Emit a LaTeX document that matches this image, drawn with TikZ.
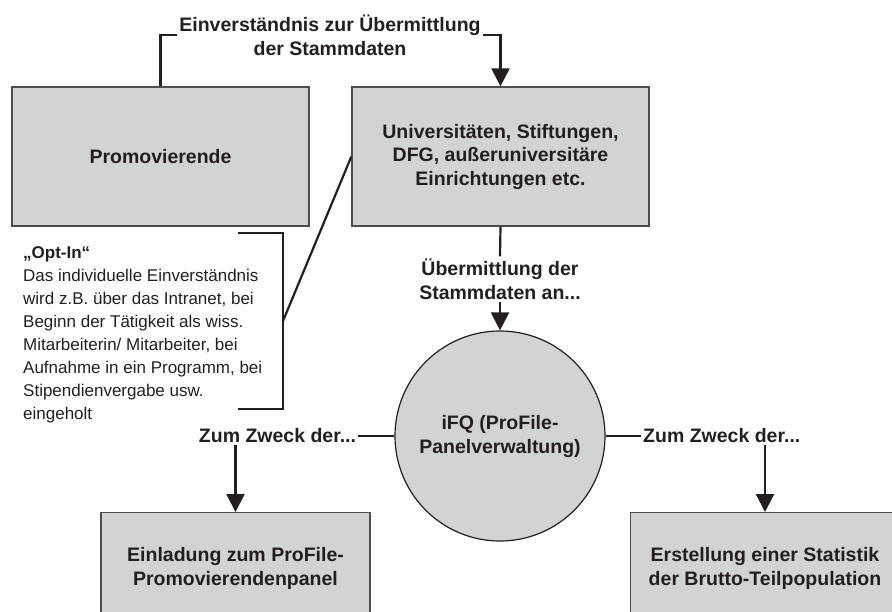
\documentclass[tikz,border=0pt]{standalone}
\usepackage{fontspec}
\setmainfont{Liberation Sans}
\usetikzlibrary{arrows.meta}
\definecolor{boxgray}{RGB}{209,211,212}
\definecolor{ink}{RGB}{35,31,32}

\begin{document}
\begin{tikzpicture}[x=1pt, y=-1pt,
    box/.style={draw=ink!80, line width=1.3pt, fill=boxgray, text=ink,
                minimum width=297pt, minimum height=139pt, inner sep=0pt,
                align=center, font=\fontsize{19.5}{23.5}\selectfont\bfseries},
    lowbox/.style={box, minimum width=269pt, minimum height=112pt},
    hub/.style={circle, draw=ink, line width=1.2pt, fill=boxgray, text=ink,
                minimum size=210pt, inner sep=0pt, align=center,
                font=\fontsize{19.5}{24}\selectfont\bfseries},
    lbl/.style={align=center, inner sep=2pt, text=ink,
                font=\fontsize{19.5}{24}\selectfont\bfseries},
    note/.style={align=left, inner sep=0pt, text=ink,
                 font=\fontsize{17}{23}\selectfont},
    link/.style={draw=ink, line width=2.2pt},
    arrowlink/.style={link, -{Triangle[length=18pt,width=18pt]}}]
  \useasboundingbox (0,0) rectangle (892,611);
  \clip (0,0) rectangle (892,611);

  % boxes
  \node[box] (promo) at (160.5,156.5) {Promovierende};
  \node[box] (uni) at (500.5,156.5)
    {Universitäten, Stiftungen,\\DFG, außeruniversitäre\\Einrichtungen etc.};
  \node[hub] (ifq) at (500,436) {iFQ (ProFile-\\Panelverwaltung)};
  \node[lowbox, anchor=north] (invite) at (235.5,512)
    {Einladung zum ProFile-\\Promovierendenpanel};
  \node[lowbox, anchor=north] (stats) at (765,512)
    {Erstellung einer Statistik\\der Brutto-Teilpopulation};

  % labels
  \node[lbl] (consent) at (330,35) {Einverständnis zur Übermittlung\\der Stammdaten};
  \node[lbl] (transfer) at (500,279) {Übermittlung der\\Stammdaten an...};
  \node[lbl] (purposeL) at (277.5,436) {Zum Zweck der...};
  \node[lbl, anchor=west] (purposeR) at (641,436) {Zum Zweck der...};

  % opt-in note (base = baseline of its last line)
  \node[note, anchor=base west] (optin) at (23,419)
    {\textbf{„Opt-In“}\\Das individuelle Einverständnis\\wird z.B. über das Intranet, bei\\%
     Beginn der Tätigkeit als wiss.\\Mitarbeiterin/ Mitarbeiter, bei\\%
     Aufnahme in ein Programm, bei\\Stipendienvergabe usw.\\eingeholt};
  \coordinate (braceTop) at (238,233);
  \coordinate (braceTip) at (283,321);
  \coordinate (braceBot) at (238,409);

  % connectors
  \draw[link] (promo.north) |- (consent.west);
  \draw[arrowlink] (consent.east) -| (uni.north);
  \draw[link] (uni.south) -- (transfer.north);
  \draw[arrowlink] (transfer.south) -- (ifq.north);
  \draw[link] (braceTop) -| (braceTip) |- (braceBot);
  \draw[link] (braceTip) -- (uni.west);
  \draw[link] (ifq.west) -- (purposeL.east);
  \draw[link] (ifq.east) -- (purposeR.west);
  \draw[arrowlink] (purposeL.south -| invite.north) -- (invite.north);
  \draw[arrowlink] (purposeR.south -| stats.north) -- (stats.north);
\end{tikzpicture}
\end{document}
